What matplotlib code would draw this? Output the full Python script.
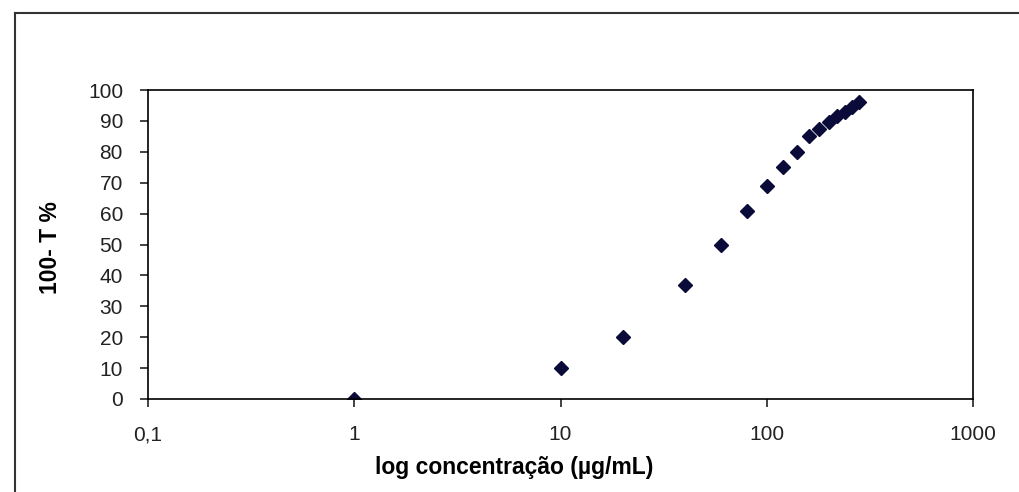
import matplotlib
matplotlib.use('Agg')
import matplotlib.pyplot as plt
from matplotlib.lines import Line2D
from matplotlib.ticker import FixedLocator, FixedFormatter, NullLocator

plt.rcParams['font.family'] = ['Liberation Sans', 'DejaVu Sans']

# dados
concentracao = [1, 10, 20, 40, 60, 80, 100, 120, 140, 160, 180, 200, 220, 240, 260, 280]
absorcao = [0, 10, 20, 37, 50, 61, 69, 75, 80, 85, 87.5, 89.5, 91.5, 93, 94.5, 96]
x_ticks = [0.1, 1, 10, 100, 1000]
x_tick_labels = ['0,1', '1', '10', '100', '1000']
y_ticks = list(range(0, 101, 10))

fig = plt.figure(figsize=(10.2, 4.92), dpi=100)
ax = fig.add_axes([148 / 1020, 1 - 399 / 492, 825 / 1020, 309 / 492])

ax.plot(concentracao, absorcao, linestyle='none', marker='D', markersize=7,
        color='#0b0b3a', markeredgecolor='#0b0b3a')

ax.set_xscale('log')
ax.set_xlim(0.1, 1000)
ax.set_ylim(0, 100)
ax.xaxis.set_major_locator(FixedLocator(x_ticks))
ax.xaxis.set_major_formatter(FixedFormatter(x_tick_labels))
ax.xaxis.set_minor_locator(NullLocator())
ax.set_yticks(y_ticks)

for s in ax.spines.values():
    s.set_linewidth(1.2)
    s.set_color('black')
ax.tick_params(axis='both', direction='out', length=6, width=1.2, labelsize=15, colors='#222222')
ax.tick_params(axis='x', pad=13)
ax.tick_params(axis='y', pad=12)

ax.set_xlabel('log concentração (µg/mL)', fontsize=16.5, fontweight='bold')
ax.xaxis.set_label_coords((514 - 148) / 825, -0.185)
ax.set_ylabel('100- T %', fontsize=16.5, fontweight='bold')
ax.yaxis.set_label_coords((62 - 148) / 825, 0.49)

# moldura externa (estilo Excel)
fig.add_artist(Line2D([15 / 1020, 15 / 1020], [0, 1 - 13 / 492], transform=fig.transFigure,
                      color='#333333', linewidth=1.5))
fig.add_artist(Line2D([15 / 1020, 1], [1 - 13 / 492, 1 - 13 / 492], transform=fig.transFigure,
                      color='#333333', linewidth=1.5))

fig.savefig('out.png', dpi=100)
